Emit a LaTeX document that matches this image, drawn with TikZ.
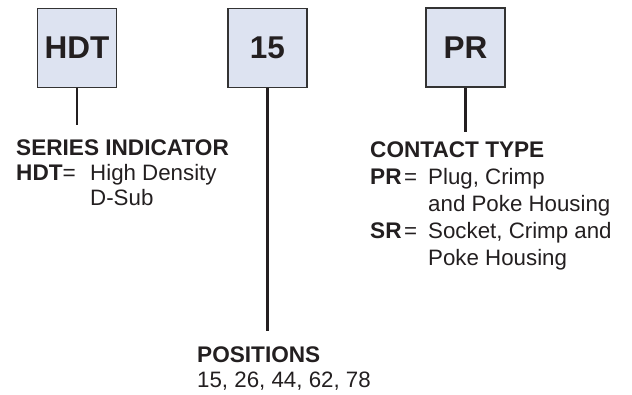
\documentclass[tikz,border=0pt]{standalone}
\usepackage{fontspec}
\setmainfont{Liberation Sans}
\definecolor{boxfill}{HTML}{DDE3F1}
\definecolor{ink}{HTML}{231F20}
\definecolor{edge}{HTML}{333333}
\begin{document}
\begin{tikzpicture}[x=1pt,y=-1pt,
  codebox/.style={draw=edge,line width=1.6pt,fill=boxfill,minimum width=79pt,minimum height=79pt,inner sep=0pt,text=ink,font=\fontsize{31.5}{31.5}\selectfont\bfseries},
  lbl/.style={anchor=base west,inner sep=0pt,text=ink,font=\fontsize{22.3}{22.3}\selectfont},
  hd/.style={lbl,font=\fontsize{22.6}{22.6}\selectfont\bfseries},
  link/.style={draw=ink,line width=2.4pt}]
\useasboundingbox (0,0) rectangle (632,394);
% boxes
\node[codebox] (hdt) at (77,48) {HDT};
\node[codebox] (pos) at (267.5,48) {15};
\node[codebox] (ct) at (465.5,47.5) {PR};
% line ends
\coordinate (hdtend) at (77,125);
\coordinate (posend) at (267.5,331);
\coordinate (ctend) at (465.5,132);
\draw[link] (hdt.south) -- (hdtend);
\draw[link] (pos.south) -- (posend);
\draw[link] (ct.south) -- (ctend);
% series indicator
\node[hd] (sih) at (16,155) {SERIES INDICATOR};
\node[hd] (sik) at (16,180) {HDT\textmd{=}};
\node[lbl] (siv1) at (90,180) {High Density};
\node[lbl] (siv2) at (90,205) {D-Sub};
% positions
\node[hd] (poh) at (197,362) {POSITIONS};
\node[lbl] (pov) at (197,387) {15, 26, 44, 62, 78};
% contact type
\node[hd] (cth) at (370,157) {CONTACT TYPE};
\node[hd] (ctk1) at (370,184.5) {PR};
\node[lbl] (cte1) at (404,184.5) {=};
\node[lbl] (ctv1) at (428,184.5) {Plug, Crimp};
\node[lbl] (ctv2) at (428,211.5) {and Poke Housing};
\node[hd] (ctk2) at (370,238.5) {SR};
\node[lbl] (cte2) at (404,238.5) {=};
\node[lbl] (ctv3) at (428,238.5) {Socket, Crimp and};
\node[lbl] (ctv4) at (428,265.5) {Poke Housing};
\end{tikzpicture}
\end{document}
